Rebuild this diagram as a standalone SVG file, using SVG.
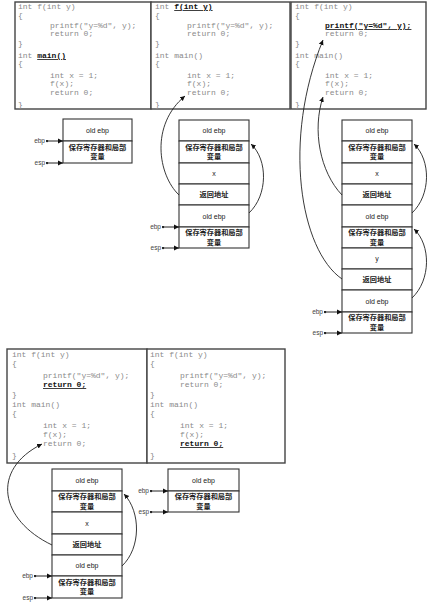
<svg xmlns="http://www.w3.org/2000/svg" width="431" height="610" viewBox="0 0 431 610">
<style>
.box{fill:#fff;stroke:#444;stroke-width:1.4}
.code{font-family:"Liberation Mono",monospace;font-size:8px;fill:#8a8a8a}
.hl{font-weight:bold;fill:#111;text-decoration:underline}
.cell{fill:#fff;stroke:#333;stroke-width:1.1}
.lbl{font-family:"Liberation Sans","Noto Sans CJK SC",sans-serif;font-size:7px;fill:#222;text-anchor:middle}
.cn{font-family:"Noto Sans CJK SC",sans-serif;font-size:7.2px;fill:#222;text-anchor:middle;font-weight:bold}
.ptr{font-family:"Liberation Sans",sans-serif;font-size:6.5px;fill:#444;text-anchor:end}
.pl{stroke:#222;stroke-width:1;fill:none;marker-end:url(#ah)}
.cv{stroke:#222;stroke-width:0.9;fill:none;marker-end:url(#ah)}
</style>
<defs>
<marker id="ah" markerUnits="userSpaceOnUse" markerWidth="6" markerHeight="6" refX="5" refY="3" orient="auto">
<path d="M0,0.5 L5,3 L0,5.5 z" fill="#111"/>
</marker>
<marker id="dot" markerUnits="userSpaceOnUse" markerWidth="3" markerHeight="3" refX="1.5" refY="1.5"><circle cx="1.5" cy="1.5" r="1.2" fill="#222"/></marker>
</defs>

<!-- top code boxes -->
<g id="code1">
<rect class="box" x="15" y="2" width="136" height="107"/>
<text class="code"><tspan x="18" y="9">int f(int y)</tspan><tspan x="18" y="18">{</tspan><tspan x="50" y="28">printf("y=%d", y);</tspan><tspan x="50" y="36">return 0;</tspan><tspan x="18" y="46">}</tspan><tspan x="18" y="58">int </tspan><tspan class="hl">main()</tspan><tspan x="18" y="66">{</tspan><tspan x="50" y="78">int x = 1;</tspan><tspan x="50" y="86">f(x);</tspan><tspan x="50" y="95">return 0;</tspan><tspan x="18" y="107">}</tspan></text>
</g>
<g id="code2">
<rect class="box" x="151" y="2" width="139" height="107"/>
<text class="code"><tspan x="155" y="9">int </tspan><tspan class="hl">f(int y)</tspan><tspan x="155" y="18">{</tspan><tspan x="187" y="28">printf("y=%d", y);</tspan><tspan x="187" y="36">return 0;</tspan><tspan x="155" y="46">}</tspan><tspan x="155" y="58">int main()</tspan><tspan x="155" y="66">{</tspan><tspan x="187" y="78">int x = 1;</tspan><tspan x="187" y="86">f(x);</tspan><tspan x="187" y="95">return 0;</tspan><tspan x="155" y="107">}</tspan></text>
</g>
<g id="code3">
<rect class="box" x="291" y="2" width="135" height="107"/>
<text class="code"><tspan x="295" y="9">int f(int y)</tspan><tspan x="295" y="18">{</tspan><tspan x="325" y="28" class="hl">printf("y=%d", y);</tspan><tspan x="325" y="36">return 0;</tspan><tspan x="295" y="46">}</tspan><tspan x="295" y="58">int main()</tspan><tspan x="295" y="66">{</tspan><tspan x="325" y="78">int x = 1;</tspan><tspan x="325" y="86">f(x);</tspan><tspan x="325" y="95">return 0;</tspan><tspan x="295" y="107">}</tspan></text>
</g>

<!-- bottom code boxes -->
<g id="code4">
<rect class="box" x="7" y="349" width="140" height="114"/>
<text class="code"><tspan x="12" y="357">int f(int y)</tspan><tspan x="12" y="366">{</tspan><tspan x="43" y="378">printf("y=%d", y);</tspan><tspan x="43" y="387" class="hl">return 0;</tspan><tspan x="12" y="397">}</tspan><tspan x="12" y="407">int main()</tspan><tspan x="12" y="416">{</tspan><tspan x="43" y="428">int x = 1;</tspan><tspan x="43" y="437">f(x);</tspan><tspan x="43" y="446">return 0;</tspan><tspan x="12" y="458">}</tspan></text>
</g>
<g id="code5">
<rect class="box" x="147" y="349" width="138" height="114"/>
<text class="code"><tspan x="150" y="357">int f(int y)</tspan><tspan x="150" y="366">{</tspan><tspan x="180" y="378">printf("y=%d", y);</tspan><tspan x="180" y="387">return 0;</tspan><tspan x="150" y="397">}</tspan><tspan x="150" y="407">int main()</tspan><tspan x="150" y="416">{</tspan><tspan x="180" y="428">int x = 1;</tspan><tspan x="180" y="437">f(x);</tspan><tspan x="180" y="446" class="hl">return 0;</tspan><tspan x="150" y="458">}</tspan></text>
</g>

<!-- stack A -->
<g id="stackA">
<rect class="cell" x="63" y="119" width="69" height="22"/>
<text class="lbl" x="97.5" y="132.5">old ebp</text>
<rect class="cell" x="63" y="141" width="69" height="22"/>
<text class="cn" x="97.5" y="149.5">保存寄存器和局部</text><text class="cn" x="97.5" y="159">变量</text>
<text class="ptr" x="45" y="143">ebp</text><text class="ptr" x="45" y="165">esp</text>
</g>

<!-- stack B -->
<g id="stackB">
<rect class="cell" x="179" y="120" width="70" height="21"/><text class="lbl" x="214" y="133">old ebp</text>
<rect class="cell" x="179" y="141" width="70" height="22"/><text class="cn" x="214" y="149.5">保存寄存器和局部</text><text class="cn" x="214" y="159">变量</text>
<rect class="cell" x="179" y="163" width="70" height="21"/><text class="lbl" x="214" y="176">x</text>
<rect class="cell" x="179" y="184" width="70" height="21"/><text class="cn" x="214" y="197">返回地址</text>
<rect class="cell" x="179" y="205" width="70" height="22"/><text class="lbl" x="214" y="218.5">old ebp</text>
<rect class="cell" x="179" y="227" width="70" height="21"/><text class="cn" x="214" y="235">保存寄存器和局部</text><text class="cn" x="214" y="244.5">变量</text>
<text class="ptr" x="161" y="229">ebp</text><text class="ptr" x="161" y="250">esp</text>
</g>

<!-- stack C -->
<g id="stackC">
<rect class="cell" x="342" y="120" width="70" height="21"/><text class="lbl" x="377" y="133">old ebp</text>
<rect class="cell" x="342" y="141" width="70" height="22"/><text class="cn" x="377" y="149.5">保存寄存器和局部</text><text class="cn" x="377" y="159">变量</text>
<rect class="cell" x="342" y="163" width="70" height="21"/><text class="lbl" x="377" y="176">x</text>
<rect class="cell" x="342" y="184" width="70" height="21"/><text class="cn" x="377" y="197">返回地址</text>
<rect class="cell" x="342" y="205" width="70" height="22"/><text class="lbl" x="377" y="218.5">old ebp</text>
<rect class="cell" x="342" y="227" width="70" height="21"/><text class="cn" x="377" y="235">保存寄存器和局部</text><text class="cn" x="377" y="244.5">变量</text>
<rect class="cell" x="342" y="248" width="70" height="21"/><text class="lbl" x="377" y="261">y</text>
<rect class="cell" x="342" y="269" width="70" height="21"/><text class="cn" x="377" y="282">返回地址</text>
<rect class="cell" x="342" y="290" width="70" height="22"/><text class="lbl" x="377" y="303.5">old ebp</text>
<rect class="cell" x="342" y="312" width="70" height="21"/><text class="cn" x="377" y="320">保存寄存器和局部</text><text class="cn" x="377" y="329.5">变量</text>
<text class="ptr" x="323" y="314">ebp</text><text class="ptr" x="323" y="335">esp</text>
</g>

<!-- stack D -->
<g id="stackD">
<rect class="cell" x="52" y="469" width="70" height="22"/><text class="lbl" x="87" y="482.5">old ebp</text>
<rect class="cell" x="52" y="491" width="70" height="21"/><text class="cn" x="87" y="499">保存寄存器和局部</text><text class="cn" x="87" y="508.5">变量</text>
<rect class="cell" x="52" y="512" width="70" height="22"/><text class="lbl" x="87" y="525.5">x</text>
<rect class="cell" x="52" y="534" width="70" height="21"/><text class="cn" x="87" y="547">返回地址</text>
<rect class="cell" x="52" y="555" width="70" height="21"/><text class="lbl" x="87" y="568">old ebp</text>
<rect class="cell" x="52" y="576" width="70" height="22"/><text class="cn" x="87" y="584.5">保存寄存器和局部</text><text class="cn" x="87" y="594">变量</text>
<text class="ptr" x="33" y="578">ebp</text><text class="ptr" x="33" y="600">esp</text>
</g>

<!-- stack E -->
<g id="stackE">
<rect class="cell" x="168" y="469" width="71" height="22"/><text class="lbl" x="203.5" y="482.5">old ebp</text>
<rect class="cell" x="168" y="491" width="71" height="21"/><text class="cn" x="203.5" y="499">保存寄存器和局部</text><text class="cn" x="203.5" y="508.5">变量</text>
<text class="ptr" x="149" y="493">ebp</text><text class="ptr" x="149" y="514">esp</text>
</g>

<!-- connectors -->
<g id="connectors">
<path class="pl" marker-start="url(#dot)" d="M47,141 H63"/>
<path class="pl" marker-start="url(#dot)" d="M47,163 H63"/>
<path class="pl" marker-start="url(#dot)" d="M163,227 H179"/>
<path class="pl" marker-start="url(#dot)" d="M163,248 H179"/>
<path class="pl" marker-start="url(#dot)" d="M325,312 H342"/>
<path class="pl" marker-start="url(#dot)" d="M325,333 H342"/>
<path class="pl" marker-start="url(#dot)" d="M35,576 H52"/>
<path class="pl" marker-start="url(#dot)" d="M35,598 H52"/>
<path class="pl" marker-start="url(#dot)" d="M151,491 H168"/>
<path class="pl" marker-start="url(#dot)" d="M151,512 H168"/>

<path class="cv" d="M179,195 C158,175 150,125 185,96"/>
<path class="cv" d="M249,213 C268,195 268,160 251,144"/>
<path class="cv" d="M342,195 C320,172 312,130 323,97"/>
<path class="cv" d="M342,279 C300,250 282,140 323,40"/>
<path class="cv" d="M412,213 C431,195 431,160 414,144"/>
<path class="cv" d="M412,298 C431,280 431,245 414,229"/>
<path class="cv" d="M52,545 C0,520 -10,470 42,444"/>
<path class="cv" d="M122,566 C141,548 141,512 124,494"/>
</g>
</svg>
